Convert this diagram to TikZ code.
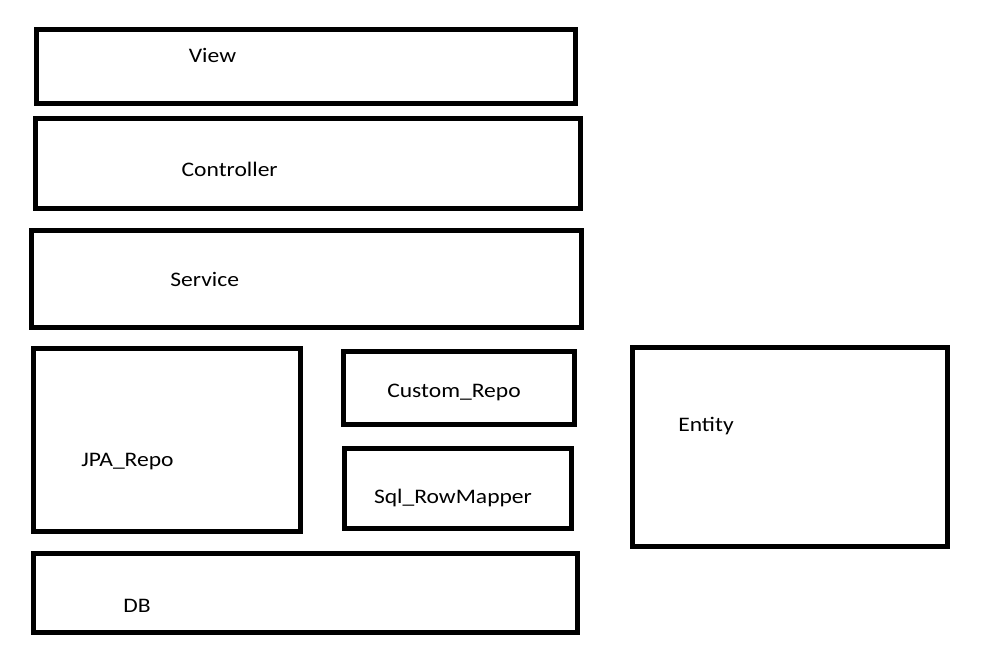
\documentclass[tikz,border=0pt]{standalone}
\usepackage{fontspec}
\setmainfont{Carlito}[FakeStretch=1.14]
\begin{document}
\begin{tikzpicture}[x=0.75pt,y=-0.75pt,
  box/.style={draw=black,line width=3.75pt},
  lbl/.style={anchor=base,inner sep=0pt,font=\fontsize{15.5}{18}\selectfont}]
\useasboundingbox (0,0) rectangle (983,654);

\draw[box] (36.5,29) rectangle (575.5,103.3);
\draw[box] (35.8,118.5) rectangle (580.5,208);
\draw[box] (31.7,230.8) rectangle (581.7,327.5);
\draw[box] (33,348.5) rectangle (300.8,531.5);
\draw[box] (343.3,351) rectangle (574,424);
\draw[box] (344,448) rectangle (571,528.7);
\draw[box] (632.5,347) rectangle (947,546.8);
\draw[box] (33,553.5) rectangle (577,632);

\node[lbl] (view) at (212.5,62) {View};
\node[lbl] (controller) at (229.7,176.7) {Controller};
\node[lbl] (service) at (204.7,286.5) {Service};
\node[lbl] (jpa) at (127.5,466.5) {JPA\_Repo};
\node[lbl] (custom) at (454,397.3) {Custom\_Repo};
\node[lbl] (mapper) at (453,503.3) {Sql\_RowMapper};
\node[lbl] (entity) at (706,431) {Entity};
\node[lbl] (db) at (137,612.5) {DB};

\end{tikzpicture}
\end{document}
